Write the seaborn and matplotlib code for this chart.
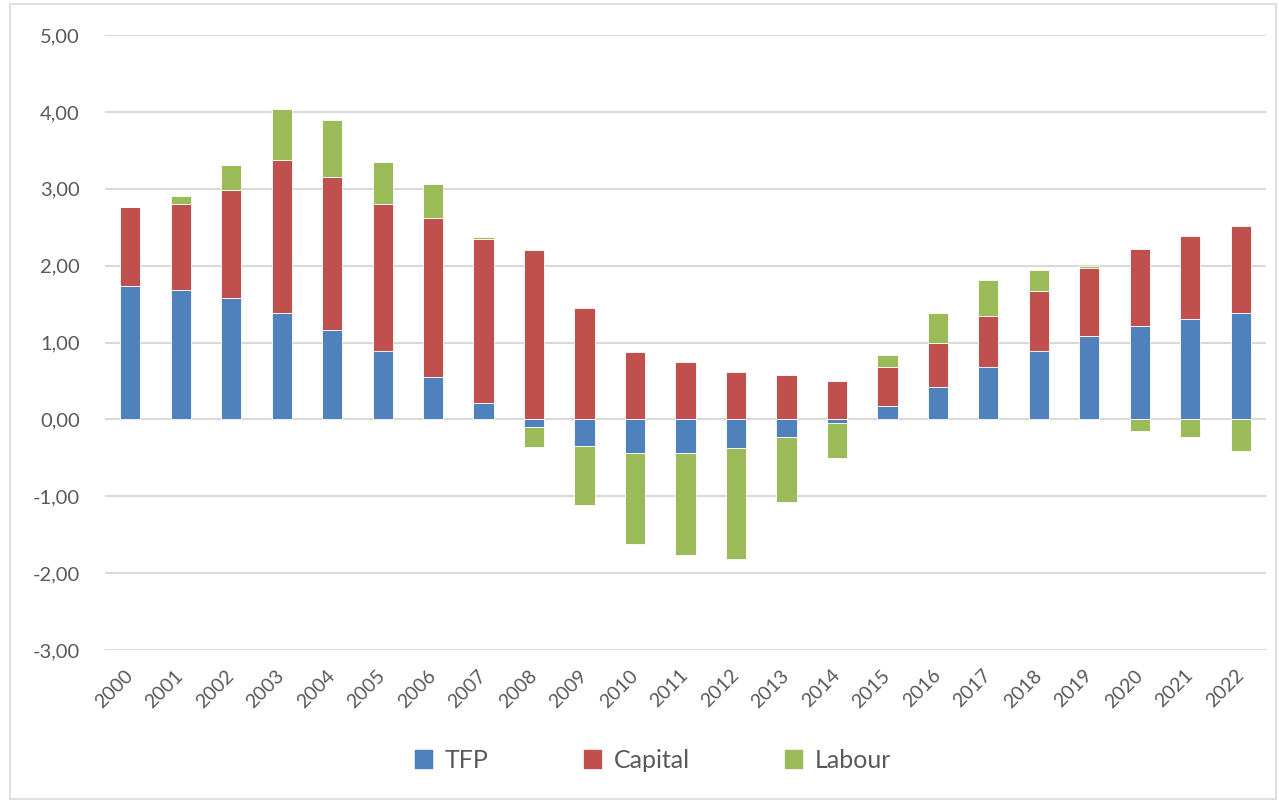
import numpy as np
import pandas as pd
import matplotlib
matplotlib.use("Agg")
import matplotlib.pyplot as plt
import matplotlib.transforms as mtransforms
from matplotlib.patches import Rectangle
from matplotlib.ticker import FuncFormatter
import seaborn as sns

# data
years = [str(y) for y in range(2000, 2023)]
tfp = [1.73, 1.68, 1.58, 1.39, 1.16, 0.89, 0.55, 0.21, -0.10, -0.34, -0.44, -0.44,
       -0.37, -0.23, -0.05, 0.18, 0.42, 0.68, 0.89, 1.08, 1.21, 1.31, 1.39]
capital = [1.03, 1.12, 1.41, 1.99, 1.99, 1.91, 2.07, 2.13, 2.20, 1.45, 0.87, 0.74,
           0.61, 0.58, 0.50, 0.50, 0.58, 0.66, 0.78, 0.89, 1.00, 1.08, 1.13]
labour = [0.00, 0.11, 0.32, 0.66, 0.74, 0.55, 0.44, 0.03, -0.26, -0.78, -1.18, -1.33,
          -1.44, -0.84, -0.45, 0.16, 0.39, 0.47, 0.27, 0.03, -0.15, -0.23, -0.41]

series = {"TFP": tfp, "Capital": capital, "Labour": labour}
colors = {"TFP": "#4F81BD", "Capital": "#C0504D", "Labour": "#9BBB59"}

sns.set_theme(style="white")
plt.rcParams['font.family'] = ['Lato', 'DejaVu Sans']
txt = "#595959"

fig = plt.figure(figsize=(12.79, 8.01), dpi=100)
ax = fig.add_axes([105 / 1279, 1 - 650 / 801, (1266 - 105) / 1279, (650 - 35) / 801])

# Excel-style stacking: positives stack up, negatives stack down
pos_base = np.zeros(len(years))
neg_base = np.zeros(len(years))
for name, vals in series.items():
    v = np.array(vals)
    bottom = np.where(v >= 0, pos_base, neg_base)
    df = pd.DataFrame({"year": years, "value": v})
    sns.barplot(data=df, x="year", y="value", bottom=bottom, color=colors[name],
                width=0.4, saturation=1, edgecolor="white", linewidth=0.6,
                ax=ax, label=name, zorder=3)
    pos_base = pos_base + np.where(v >= 0, v, 0)
    neg_base = neg_base + np.where(v < 0, v, 0)

ax.set_xlim(-0.5, len(years) - 0.5)
ax.set_ylim(-3, 5)
ax.set_yticks(np.arange(-3, 5.01, 1))
ax.yaxis.set_major_formatter(FuncFormatter(lambda v, p: f"{v:.2f}".replace(".", ",")))
ax.grid(axis="y", color="#D9D9D9", linewidth=1.5, zorder=0)
ax.grid(axis="x", visible=False)
ax.axhline(0, color="#D9D9D9", linewidth=1.5, zorder=2)
for s in ax.spines.values():
    s.set_visible(False)
ax.set_xlabel("")
ax.set_ylabel("")
ax.tick_params(axis="y", length=0, pad=18, labelsize=14.5, labelcolor=txt)
ax.tick_params(axis="x", length=0, pad=12, labelsize=14, labelcolor=txt)
offset = mtransforms.ScaledTranslation(-6 / 100, 0, fig.dpi_scale_trans)
for lab in ax.get_xticklabels():
    lab.set_rotation(45)
    lab.set_ha("right")
    lab.set_va("top")
    lab.set_rotation_mode("anchor")
    lab.set_transform(lab.get_transform() + offset)

if ax.legend_:
    ax.legend_.remove()
handles = [Rectangle((0, 0), 1, 1, color=colors[n]) for n in series]
fig.legend(handles, list(series), loc="center", bbox_to_anchor=(653 / 1279, 1 - 760 / 801),
           ncol=3, frameon=False, fontsize=18, labelcolor=txt, handlelength=0.7,
           handleheight=0.7, handletextpad=0.5, columnspacing=3.8)

# chart area border
fig.patches.append(Rectangle((10 / 1279, 0.002), 1 - 10 / 1279 - 0.002, 0.993, transform=fig.transFigure,
                             fill=False, edgecolor="#D9D9D9", linewidth=1.2))

fig.savefig("out.png", dpi=100)
